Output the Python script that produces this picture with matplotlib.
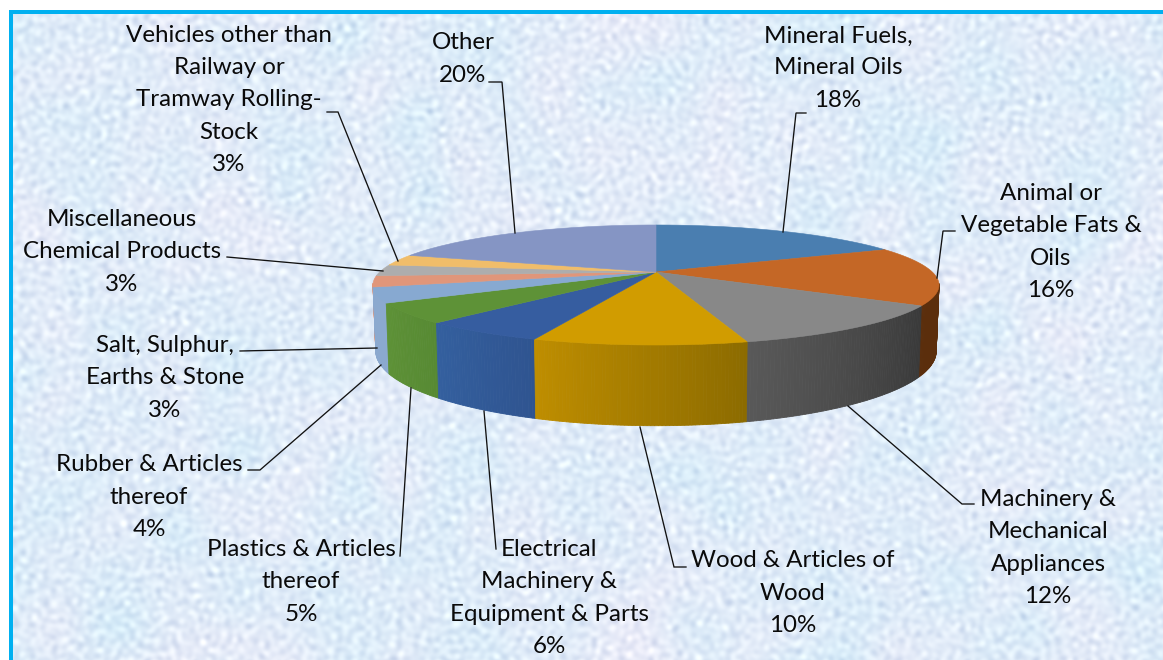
import numpy as np
import matplotlib.pyplot as plt
from matplotlib.colors import to_rgb

plt.rcParams['font.family'] = ['Lato', 'DejaVu Sans']

labels = ['Mineral Fuels,\nMineral Oils', 'Animal or\nVegetable Fats &\nOils',
          'Machinery &\nMechanical\nAppliances', 'Wood & Articles of\nWood',
          'Electrical\nMachinery &\nEquipment & Parts', 'Plastics & Articles\nthereof',
          'Rubber & Articles\nthereof', 'Salt, Sulphur,\nEarths & Stone',
          'Miscellaneous\nChemical Products', 'Vehicles other than\nRailway or\nTramway Rolling-\nStock',
          'Other']
shares = [18, 15.8, 12, 9.9, 5.9, 5.3, 4.1, 3, 3, 3, 20]

top_colors = ['#4a7eb0', '#c46726', '#888888', '#d19c00', '#365da0', '#5e9237',
              '#87a9d1', '#e0967a', '#adadad', '#f0bd6a', '#8595c4']
wall_left = ['#4a7eb0', '#5b2e0c', '#595959', '#bf8e00', '#34609f', '#5e9237',
             '#8ba9cf', '#e0967a', '#adadad', '#f0bd6a', '#8595c4']
wall_right = ['#4a7eb0', '#5b2e0c', '#393939', '#8c6b00', '#2f5490', '#578a33',
              '#8ba9cf', '#e0967a', '#adadad', '#f0bd6a', '#8595c4']

# label centres and leader lines, in pixels of the picture
label_pos = [(838, 68), (1051, 242), (1048, 548), (793, 593), (549, 598),
             (301, 582), (149, 497), (165, 378), (122, 252), (229, 100), (463, 59)]
leaders = [[(806, 113), (796, 113), (783, 232)],
           [(955, 231), (943, 231), (937, 278)],
           [(974, 504), (962, 504), (848, 406)],
           [(686, 567), (674, 567), (640, 427)],
           [(496, 549), (484, 411)],
           [(400, 556), (411, 388)],
           [(248, 470), (260, 470), (381, 365)],
           [(240, 351), (377, 348)],
           [(227, 257), (383, 271)],
           [(327, 112), (338, 112), (398, 261)],
           [(489, 82), (502, 82), (515, 233)]]

# pie in perspective: centre, half axes, tilt, wall height
cx, cy = 656, 272
rx, ry = 276.3, 57.2
tilt = 0.2167
wall = 63.2


def rim(theta):
    x = np.sin(theta)
    u = -np.cos(theta)
    w = 1 - tilt * u
    return cx + rx * x / w, cy + ry * u / w, w


def mix(c1, c2, t):
    a, b = np.array(to_rgb(c1)), np.array(to_rgb(c2))
    return a + (b - a) * t


fig = plt.figure(figsize=(11.63, 6.6), dpi=100)
ax = fig.add_axes([0, 0, 1, 1])

# marbled background
rng = np.random.default_rng(4)
h, w_ = 660, 1163
fy = np.fft.fftfreq(h)[:, None]
fx = np.fft.fftfreq(w_)[None, :]
f = np.sqrt(fx ** 2 + fy ** 2)
band = np.exp(-((f - 0.07) / 0.05) ** 2)
noise = np.fft.ifft2(np.fft.fft2(rng.normal(size=(h, w_))) * band).real
noise /= noise.std()
slow = np.fft.ifft2(np.fft.fft2(rng.normal(size=(h, w_))) * np.exp(-(f / 0.012) ** 2)).real
slow /= slow.std()
bg = np.zeros((h, w_, 3))
bg[..., 0] = 224 + 7 * noise + 3 * slow
bg[..., 1] = 236 + 6 * noise
bg[..., 2] = 249 + 3.5 * noise
ax.imshow(np.clip(bg, 0, 255).astype(np.uint8), extent=(13, 1163, 660, 14),
          aspect='auto', zorder=0, interpolation='bilinear')
ax.set_xlim(0, 1163)
ax.set_ylim(660, 0)
ax.axis('off')
ax.fill([9, 1163, 1163, 13, 13, 9], [10, 10, 14, 14, 660, 660], color='#00b0f0', lw=0, zorder=1)

edges = np.cumsum([0] + shares) / sum(shares) * 2 * np.pi

# walls are only seen in front of the silhouette, drawn back to front
strips = []
for i in range(len(shares)):
    th = np.linspace(edges[i], edges[i + 1], max(4, int(shares[i] * 6)))
    for j in range(len(th) - 1):
        mid = -np.cos((th[j] + th[j + 1]) / 2)
        if mid < tilt - 0.03:
            continue
        # the rim runs right to left along the front
        col = mix(wall_right[i], wall_left[i], (j + 0.5) / (len(th) - 1))
        strips.append((mid, th[j], th[j + 1], col))
strips.sort(key=lambda s: s[0])

for mid, t0, t1, col in strips:
    x0, y0, w0 = rim(t0)
    x1, y1, w1 = rim(t1)
    xs = [x0, x1, cx + (x1 - cx) * 0.99, cx + (x0 - cx) * 0.99]
    ys = [y0, y1, y1 + wall / w1, y0 + wall / w0]
    ax.fill(xs, ys, color=col, lw=0.6, zorder=2)

for i in range(len(shares)):
    th = np.linspace(edges[i], edges[i + 1], 80)
    x, y, _ = rim(th)
    ax.fill(np.r_[cx, x], np.r_[cy, y], color=top_colors[i], lw=0.4, zorder=3)

for pts in leaders:
    ax.plot([p[0] for p in pts], [p[1] for p in pts], color='#111111', lw=0.95, zorder=4,
            solid_joinstyle='miter')

for name, share, pos in zip(labels, shares, label_pos):
    ax.text(pos[0], pos[1], f'{name}\n{round(share)}%', ha='center', va='center', ma='center',
            fontsize=17.4, color='#0a0a0a', linespacing=1.65, zorder=5)

fig.savefig('out.png', dpi=100)
